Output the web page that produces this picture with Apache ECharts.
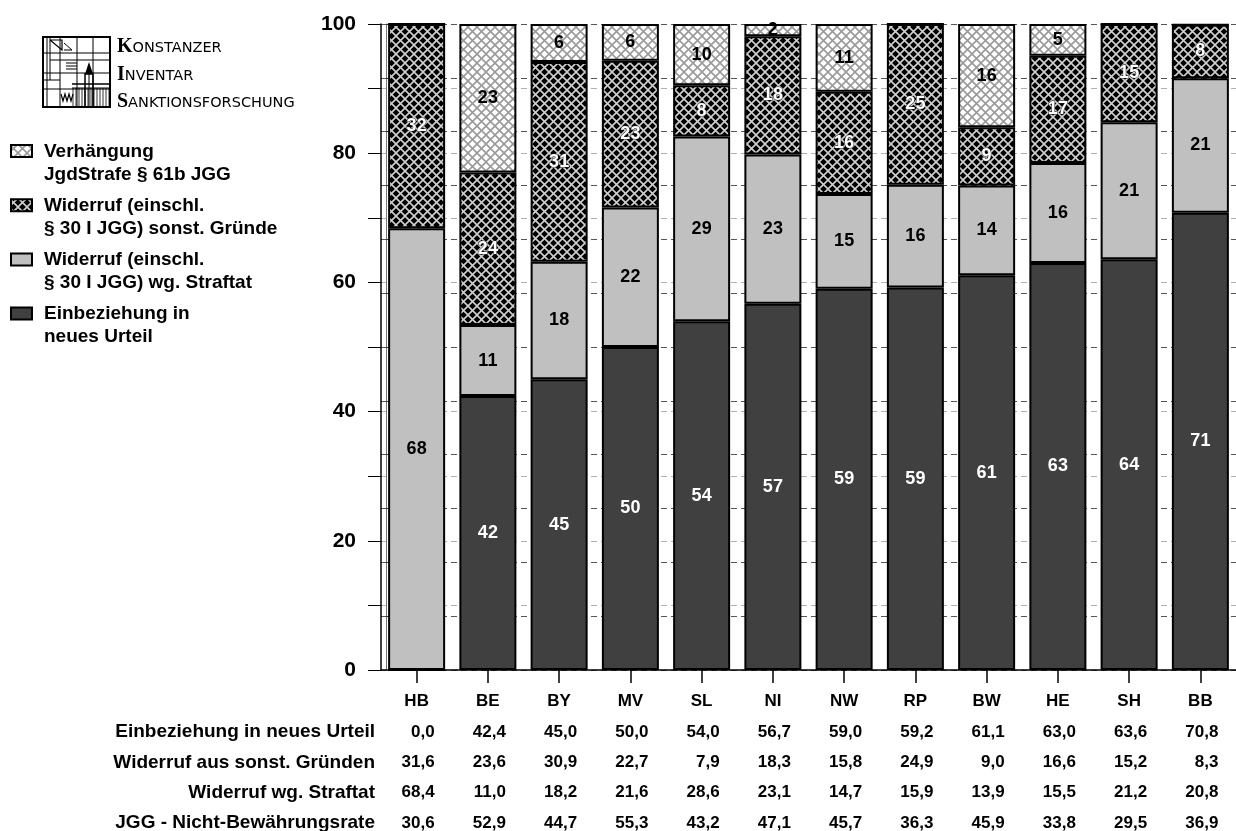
<!DOCTYPE html>
<html><head><meta charset="utf-8">
<script src="https://cdn.jsdelivr.net/npm/echarts@6/dist/echarts.min.js"></script>
<style>html,body{margin:0;padding:0;background:#fff}#c{width:1236px;height:831px}</style>
</head><body><div id="c"></div>
<script>
// ---------- data ----------
const categories = ['HB','BE','BY','MV','SL','NI','NW','RP','BW','HE','SH','BB'];
const einbeziehung     = [0.0,42.4,45.0,50.0,54.0,56.7,59.0,59.2,61.1,63.0,63.6,70.8];
const widerrufSonst    = [31.6,23.6,30.9,22.7,7.9,18.3,15.8,24.9,9.0,16.6,15.2,8.3];
const widerrufStraftat = [68.4,11.0,18.2,21.6,28.6,23.1,14.7,15.9,13.9,15.5,21.2,20.8];
const verhaengung      = [0.0,23.0,5.9,5.7,9.5,1.9,10.5,0.0,16.0,4.9,0.0,0.0];
const nichtBewaehrung  = [30.6,52.9,44.7,55.3,43.2,47.1,45.7,36.3,45.9,33.8,29.5,36.9];
const yTickLabels = [0,20,40,60,80,100];
const seriesNames = ['Einbeziehung in\nneues Urteil','Widerruf (einschl.\n§ 30 I JGG) wg. Straftat','Widerruf (einschl.\n§ 30 I JGG) sonst. Gründe','Verhängung\nJgdStrafe § 61b JGG'];
const tableNames = ['Einbeziehung in neues Urteil','Widerruf aus sonst. Gründen','Widerruf wg. Straftat','JGG - Nicht-Bewährungsrate'];
const logoWords = [['K','ONSTANZER'],['I','NVENTAR'],['S','ANKTIONSFORSCHUNG']];

// ---------- styles ----------
const FONT = '"Liberation Sans", Arial, sans-serif';
function hatch(bg, fg, lw){
  const s = 9, c = document.createElement('canvas'); c.width = s; c.height = s;
  const g = c.getContext('2d'); g.fillStyle = bg; g.fillRect(0,0,s,s);
  g.strokeStyle = fg; g.lineWidth = lw;
  g.beginPath(); g.moveTo(-2,-2); g.lineTo(s+2,s+2); g.moveTo(s+2,-2); g.lineTo(-2,s+2); g.stroke();
  return c;
}
const DARK = '#404040', LIGHT = '#c0c0c0';
const hatchLight = {image: hatch('#ffffff','#9a9a9a',1.6), repeat:'repeat'};
const hatchDark  = {image: hatch('#000000','#cfcfcf',1.6), repeat:'repeat'};
const fills = [DARK, LIGHT, hatchDark, hatchLight];
const labelColors = ['#ffffff','#000000','#ffffff','#000000'];
const seriesData = [einbeziehung, widerrufStraftat, widerrufSonst, verhaengung];
const tableData = [einbeziehung, widerrufSonst, widerrufStraftat, nichtBewaehrung];

const fmt = v => v.toFixed(1).replace('.', ',');

const chart = echarts.init(document.getElementById('c'), null, {renderer:'canvas'});

const series = seriesData.map((d,i)=>({
  name: seriesNames[i], type:'bar', stack:'total', data:d, barWidth:'80%',
  xAxisIndex:0, yAxisIndex:0,
  itemStyle:{color:fills[i], borderColor:'#000', borderWidth:2},
  label:{show:true, position:'inside', color:labelColors[i], fontSize:18, fontWeight:'bold', fontFamily:FONT,
    textBorderWidth: i===2 ? 1 : 0, textBorderColor:'#222',
    formatter:p => p.value >= 1 ? String(Math.round(p.value)) : ''},
  emphasis:{disabled:true}
}));

const xAxes = [{
  type:'category', data:categories, gridIndex:0, position:'bottom',
  axisLine:{show:true, lineStyle:{color:'#000', width:1.5}},
  axisTick:{show:true, alignWithLabel:true, length:13, lineStyle:{color:'#000', width:1.5}},
  axisLabel:{interval:0, margin:23, fontSize:17, fontWeight:'bold', fontFamily:FONT, color:'#000'},
  splitLine:{show:false}
}].concat(tableData.map((vals,r)=>({
  type:'category', data:categories, gridIndex:0, position:'bottom', offset:62+30.3*r,
  axisLine:{show:false, onZero:false}, axisTick:{show:false}, splitLine:{show:false},
  axisLabel:{interval:0, margin:-9, formatter:(v,idx)=>'{v|'+fmt(vals[idx])+'}',
    rich:{v:{width:36, align:'right', lineHeight:18, fontSize:17, fontWeight:'bold', fontFamily:FONT, color:'#000'}}},
  name:tableNames[r], nameLocation:'start', nameGap:6, nameMoveOverlap:false,
  nameTextStyle:{fontSize:19, fontWeight:'bold', fontFamily:FONT, color:'#000'}
})));

// legend drawn as graphic (swatch aligned with first text line)
const legendOrder = [3,2,1,0];
const legendGraphics = [];
legendOrder.forEach((si,k)=>{
  const top = 140 + k*54.2;
  legendGraphics.push({type:'rect', shape:{x:11, y:top+5, width:21, height:12},
    style:{fill:fills[si], stroke:'#000', lineWidth:2}});
  legendGraphics.push({type:'text', x:44, y:top,
    style:{text:seriesNames[si], font:'bold 19px '+FONT, fill:'#000', lineHeight:23, verticalAlign:'top'}});
});

// logo
const L = [];
const ln = (x1,y1,x2,y2,w)=>L.push({type:'line', shape:{x1,y1,x2,y2}, style:{stroke:'#000', lineWidth:w||1}});
L.push({type:'rect', shape:{x:43,y:37,width:67,height:70}, style:{fill:'none', stroke:'#000', lineWidth:2}});
ln(47,37,47,107); ln(50,37,50,80);
ln(60,37,60,107); ln(77,37,77,107); ln(93,37,93,107);
ln(43,53,110,53); ln(43,73,110,73); ln(43,89,110,89);
ln(50,60,110,60,1); ln(66,63,77,63); ln(66,66,77,66); ln(66,69,77,69);
ln(43,80,60,80);
L.push({type:'polyline', shape:{points:[[50,40],[62,40],[62,50],[50,40]]}, style:{stroke:'#000', fill:'none', lineWidth:1.2}});
L.push({type:'polyline', shape:{points:[[64,43],[72,50],[64,50]]}, style:{stroke:'#000', fill:'none', lineWidth:1}});
L.push({type:'polygon', shape:{points:[[85,74],[89,62],[93,74]]}, style:{fill:'#000'}});
L.push({type:'rect', shape:{x:85,y:74,width:8,height:33}, style:{fill:'none', stroke:'#000', lineWidth:1.5}});
ln(89,74,89,107); ln(72,84,110,84,1.5); ln(72,88,110,88);
for (let x=73; x<110; x+=3) ln(x,88,x,106,0.8);
L.push({type:'polyline', shape:{points:[[61,94],[63,101],[65,94],[67,101],[69,94],[71,101],[73,94]]}, style:{stroke:'#000', fill:'none', lineWidth:1.2}});
logoWords.forEach((w,i)=>{
  L.push({type:'text', x:117, y:47 + i*27.5,
    style:{text:'{a|'+w[0]+'}{b|'+w[1]+'}', verticalAlign:'middle',
      rich:{a:{font:'bold 20px "Liberation Serif", serif', fill:'#000', verticalAlign:'bottom'},
            b:{font:'14.5px "DejaVu Sans", sans-serif', fill:'#000', verticalAlign:'bottom', padding:[0,0,1,0]}}}});
});

const option = {
  animation:false,
  backgroundColor:'#fff',
  grid:{left:381, right:0, top:24, bottom:161, outerBoundsMode:'none', containLabel:false},
  xAxis: xAxes,
  yAxis:[{
    type:'value', min:0, max:100, interval:10,
    axisLine:{show:true, lineStyle:{color:'#000', width:1.5}},
    axisTick:{show:true, length:13, lineStyle:{color:'#000', width:1}},
    axisLabel:{margin:25, fontSize:21, fontWeight:'bold', fontFamily:FONT, color:'#000',
      formatter:v => yTickLabels.indexOf(v) >= 0 ? String(v) : ''},
    splitLine:{show:true, lineStyle:{color:'#b0b0b0', type:[6,4], width:1}}
  },{
    type:'value', min:0, max:100, interval:100/12, position:'left', offset:-5,
    axisLine:{show:true, lineStyle:{color:'#777', width:1}},
    axisTick:{show:true, inside:true, length:5, lineStyle:{color:'#333'}},
    axisLabel:{show:false},
    splitLine:{show:true, lineStyle:{color:'#555', type:[6,4], width:1}}
  }],
  series: series,
  graphic: legendGraphics.concat(L)
};
chart.setOption(option);
</script>
</body></html>
